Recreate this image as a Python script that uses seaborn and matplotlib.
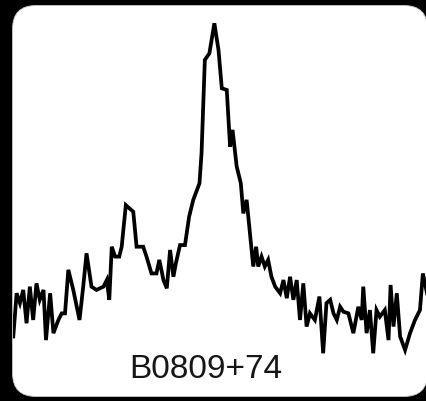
import matplotlib
matplotlib.use("Agg")
import matplotlib.pyplot as plt
from matplotlib.patches import FancyBboxPatch
import seaborn as sns
import pandas as pd

# Integrated pulse profile of B0809+74 (normalised intensity vs. pulse phase)
phase = [0.000, 0.008, 0.016, 0.024, 0.032, 0.040, 0.048, 0.056, 0.064, 0.073,
         0.079, 0.089, 0.097, 0.109, 0.117, 0.125, 0.133, 0.145, 0.160, 0.169,
         0.177, 0.189, 0.201, 0.218, 0.226, 0.232, 0.238, 0.246, 0.256, 0.262,
         0.272, 0.290, 0.298, 0.314, 0.322, 0.334, 0.346, 0.353, 0.363, 0.371,
         0.379, 0.387, 0.393, 0.403, 0.415, 0.425, 0.435, 0.450, 0.455, 0.463,
         0.474, 0.486, 0.496, 0.504, 0.516, 0.524, 0.530, 0.540, 0.550, 0.556,
         0.564, 0.572, 0.580, 0.587, 0.592, 0.600, 0.608, 0.616, 0.624, 0.633,
         0.645, 0.653, 0.661, 0.669, 0.677, 0.685, 0.693, 0.701, 0.709, 0.717,
         0.729, 0.740, 0.749, 0.757, 0.766, 0.774, 0.782, 0.790, 0.798, 0.810,
         0.822, 0.834, 0.842, 0.846, 0.854, 0.862, 0.870, 0.878, 0.886, 0.898,
         0.907, 0.912, 0.919, 0.927, 0.935, 0.947, 0.959, 0.971, 0.983, 0.990,
         1.000]
intensity = [0.051, 0.182, 0.152, 0.192, 0.091, 0.202, 0.101, 0.212, 0.162, 0.192,
             0.040, 0.182, 0.061, 0.101, 0.121, 0.121, 0.253, 0.192, 0.101, 0.202,
             0.303, 0.202, 0.192, 0.202, 0.222, 0.162, 0.323, 0.293, 0.293, 0.323,
             0.449, 0.429, 0.323, 0.323, 0.293, 0.242, 0.242, 0.283, 0.222, 0.197,
             0.313, 0.232, 0.273, 0.328, 0.328, 0.414, 0.465, 0.515, 0.606, 0.889,
             0.909, 1.000, 0.919, 0.803, 0.798, 0.626, 0.677, 0.566, 0.515, 0.424,
             0.465, 0.364, 0.263, 0.323, 0.263, 0.293, 0.263, 0.283, 0.232, 0.202,
             0.182, 0.222, 0.167, 0.232, 0.162, 0.222, 0.101, 0.212, 0.081, 0.121,
             0.101, 0.172, 0.000, 0.152, 0.162, 0.121, 0.101, 0.141, 0.126, 0.121,
             0.061, 0.141, 0.101, 0.202, 0.061, 0.131, 0.000, 0.131, 0.111, 0.131,
             0.040, 0.207, 0.081, 0.182, 0.051, 0.010, 0.061, 0.101, 0.131, 0.242,
             0.182]
source_name = "B0809+74"

df = pd.DataFrame({"phase": phase, "intensity": intensity})

W, H = 427, 401
fig = plt.figure(figsize=(W / 100, H / 100), dpi=100, facecolor="black")

# rounded white panel, drawn beneath the axes
box_l, box_r, box_t, box_b = 12.5, 427.5, 5.5, 396.5
panel = FancyBboxPatch((box_l / W, 1 - box_b / H),
                       (box_r - box_l) / W, (box_b - box_t) / H,
                       boxstyle="round,pad=0,rounding_size=0.055",
                       transform=fig.transFigure, facecolor="white",
                       edgecolor="#c8c8c8", linewidth=0.6, zorder=-5,
                       mutation_aspect=W / H)
fig.patches.append(panel)

ax_l, ax_r, ax_t, ax_b = 13.3, 427.0, 6.0, 397.0
ax = fig.add_axes([ax_l / W, 1 - ax_b / H, (ax_r - ax_l) / W, (ax_b - ax_t) / H])
ax.set_zorder(2)
ax.set_facecolor("none")
sns.lineplot(data=df, x="phase", y="intensity", ax=ax, color="black",
             linewidth=2.7, estimator=None, sort=False)
for ln in ax.lines:
    ln.set_solid_joinstyle("miter")

ax.set_xlim(0, 1)
ax.set_ylim((353.3 - ax_b) / 330.0, (353.3 - ax_t) / 330.0)
ax.set_axis_off()

fig.text(206 / W, 1 - 378 / H, source_name, ha="center", va="baseline",
         fontsize=24, color="#161616", family=["Liberation Sans", "DejaVu Sans"],
         zorder=3)

fig.savefig("out.png", dpi=100, facecolor="black")
